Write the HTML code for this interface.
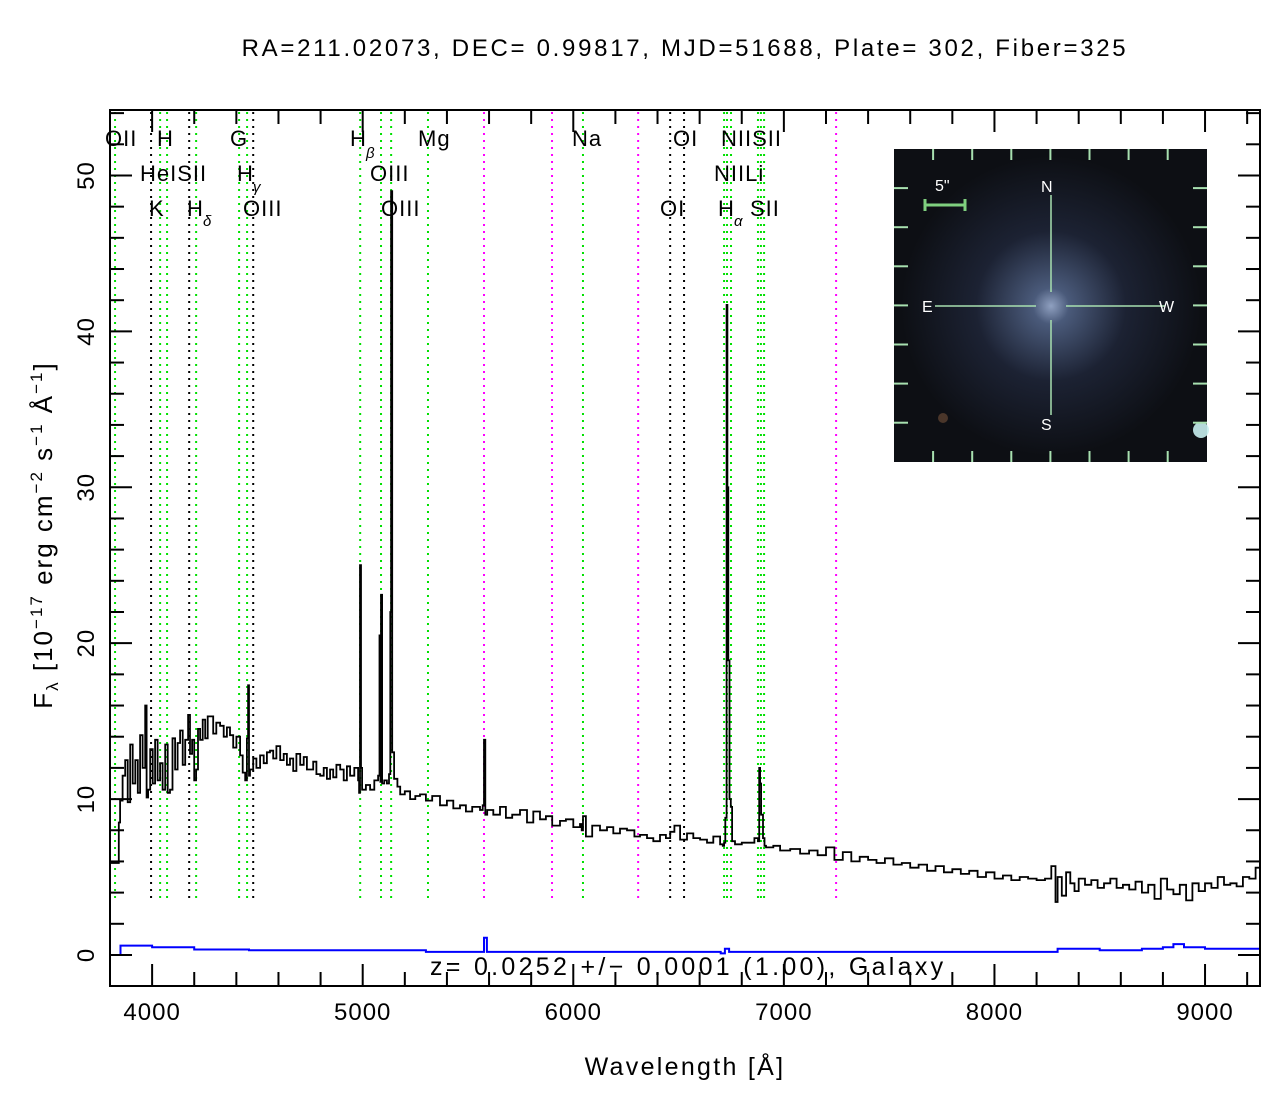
<!DOCTYPE html>
<html><head><meta charset="utf-8"><style>
html,body{margin:0;padding:0;background:#fff;}
svg text{font-family:"Liberation Sans","DejaVu Sans",sans-serif;}
</style></head><body>
<svg id="chart" width="1284" height="1097" viewBox="0 0 1284 1097" xmlns="http://www.w3.org/2000/svg">
<text x="685" y="56" font-size="24" text-anchor="middle" letter-spacing="2.7">RA=211.02073, DEC= 0.99817, MJD=51688, Plate= 302, Fiber=325</text>
<g id="lines"></g>
<g id="series"></g>
<rect x="110" y="110" width="1150" height="876" fill="none" stroke="#000" stroke-width="2"/>
<g id="axes"></g>
<g font-size="22" letter-spacing="1">
<text x="105" y="146">OII</text><text x="157" y="146">H</text><text x="230" y="146">G</text>
<text x="350" y="146">H</text><text x="366" y="158" font-size="15" font-style="italic">β</text>
<text x="418" y="146">Mg</text><text x="572" y="146">Na</text><text x="673" y="146">OI</text><text x="721" y="146">NIISII</text>
<text x="140" y="181">HeISII</text><text x="237" y="181">H</text><text x="253" y="192" font-size="15" font-style="italic">γ</text>
<text x="370" y="181">OIII</text><text x="714" y="181">NIILi</text>
<text x="149" y="216">K</text><text x="187" y="216">H</text><text x="203" y="226" font-size="15" font-style="italic">δ</text>
<text x="243" y="216">OIII</text><text x="381" y="216">OIII</text><text x="660" y="216">OI</text>
<text x="718" y="216">H</text><text x="734" y="226" font-size="15" font-style="italic">α</text><text x="750" y="216">SII</text>
</g>
<g>
<defs><radialGradient id="gal" cx="0.5" cy="0.5" r="0.5">
<stop offset="0" stop-color="#8fa0c0"/><stop offset="0.12" stop-color="#4a5a7a"/><stop offset="0.5" stop-color="#1c2233"/><stop offset="1" stop-color="#0d0f14"/></radialGradient></defs>
<rect x="894" y="149" width="313" height="313" fill="#0d0f14"/>
<ellipse cx="1051" cy="306" rx="150" ry="150" fill="url(#gal)"/>
<circle cx="1201" cy="430" r="8" fill="#c8f0f0" opacity="0.9"/>
<circle cx="943" cy="418" r="5" fill="#5a4030" opacity="0.8"/>
<g stroke="#a8e0b0" stroke-width="1.5">
<line x1="1051" y1="195" x2="1051" y2="292"/><line x1="1051" y1="320" x2="1051" y2="415"/>
<line x1="935" y1="306" x2="1036" y2="306"/><line x1="1066" y1="306" x2="1165" y2="306"/>
<line x1="925" y1="205" x2="965" y2="205" stroke="#7fd07f" stroke-width="3"/>
<line x1="925" y1="199" x2="925" y2="211" stroke="#7fd07f" stroke-width="3"/><line x1="965" y1="199" x2="965" y2="211" stroke="#7fd07f" stroke-width="3"/>
</g>
<g id="insetTicks" stroke="#a8e0b0" stroke-width="2"></g>
<g font-size="16">
<text x="935" y="191" style="fill:#fff">5"</text><text x="1041" y="192" style="fill:#fff">N</text>
<text x="922" y="312" style="fill:#fff">E</text><text x="1159" y="312" style="fill:#fff">W</text><text x="1041" y="430" style="fill:#fff">S</text>
</g>
</g>
<text x="430" y="975" font-size="25" letter-spacing="3.3">z= 0.0252 +/− 0.0001 (1.00), Galaxy</text>
<text x="685" y="1075" font-size="25" text-anchor="middle" letter-spacing="2.3">Wavelength [Å]</text>
<text transform="translate(52,535) rotate(-90)" font-size="26" text-anchor="middle" letter-spacing="2">F<tspan font-size="17" dy="6">λ</tspan><tspan dy="-6"> [10</tspan><tspan font-size="17" dy="-10">−17</tspan><tspan dy="10"> erg cm</tspan><tspan font-size="17" dy="-10">−2</tspan><tspan dy="10"> s</tspan><tspan font-size="17" dy="-10">−1</tspan><tspan dy="10"> Å</tspan><tspan font-size="17" dy="-10">−1</tspan><tspan dy="10">]</tspan></text>
</svg>
<script>
const wave=[3801,3839,3842,3848,3860,3872,3884,3896,3908,3920,
3932,3943,3955,3967,3974,3981,3991,4003,4014,4026,
4038,4050,4062,4074,4085,4097,4109,4121,4133,4145,
4157,4171,4180,4190,4200,4209,4218,4228,4240,4252,
4264,4275,4290,4305,4323,4340,4355,4370,4385,4400,
4418,4430,4442,4450,4456,4460,4465,4480,4495,4513,
4530,4545,4560,4575,4590,4608,4625,4640,4655,4670,
4685,4703,4720,4735,4750,4765,4780,4798,4815,4830,
4845,4860,4875,4893,4910,4925,4940,4960,4978,4983,
4987,4992,4997,5015,5035,5055,5073,5080,5084,5087,
5092,5102,5115,5125,5131,5135,5140,5149,5165,5178,
5200,5225,5250,5272,5300,5330,5367,5400,5430,5462,
5490,5520,5557,5570,5576,5582,5591,5620,5652,5680,
5710,5747,5780,5810,5842,5870,5900,5937,5965,6000,
6032,6040,6046,6060,6090,6127,6160,6190,6222,6255,
6290,6317,6350,6380,6412,6440,6460,6480,6507,6540,
6570,6602,6635,6665,6697,6710,6716,6722,6728,6732,
6736,6742,6748,6754,6768,6800,6839,6860,6877,6883,
6887,6892,6901,6908,6915,6950,6982,7030,7077,7120,
7160,7200,7240,7280,7320,7360,7400,7440,7480,7520,
7560,7600,7640,7680,7720,7760,7800,7840,7880,7920,
7960,8000,8040,8080,8120,8160,8200,8240,8270,8290,
8300,8320,8340,8360,8380,8400,8430,8460,8490,8520,
8550,8580,8610,8640,8670,8700,8730,8760,8790,8820,
8850,8880,8910,8940,8970,9000,9030,9060,9090,9120,
9150,9180,9210,9240,9261];
const flux=[5.9,5.9,8.5,9.9,11.5,12.5,9.8,13.5,11.0,12.5,
10.4,14.1,12.0,16.0,10.1,10.6,13.2,11.0,13.8,11.2,
12.3,10.6,13.5,10.4,10.6,13.9,11.9,13.6,14.4,12.2,
13.8,15.4,12.9,13.8,11.2,11.9,14.5,13.8,15.1,13.9,
15.3,15.3,14.2,14.9,14.7,14.0,14.6,14.1,13.3,14.0,
12.8,11.7,11.2,13.9,17.3,11.5,11.9,12.6,12.0,12.8,
12.3,13.0,13.1,12.6,13.4,12.5,12.9,12.2,12.6,11.8,
12.9,12.2,12.7,11.9,11.9,12.4,11.6,11.5,12.0,11.3,
11.9,11.4,12.2,11.9,11.2,12.1,11.5,12.0,11.2,10.4,
25.0,12.0,10.6,10.9,10.6,11.2,11.5,20.5,11.1,23.1,
11.0,11.2,11.0,11.6,22.0,49.0,13.0,11.3,10.8,10.3,
10.5,10.0,10.2,10.3,9.9,10.2,9.6,9.9,9.4,9.6,
9.2,9.5,9.3,9.6,13.8,9.0,9.3,9.0,9.5,8.8,
9.0,9.3,8.5,9.2,8.7,8.9,8.3,8.6,8.7,8.2,
8.4,8.0,8.9,7.6,8.3,8.0,8.2,7.8,8.1,8.0,
7.6,7.7,7.5,7.3,7.7,7.5,7.9,8.3,7.4,7.8,
7.5,7.4,7.2,7.6,7.1,7.0,7.2,8.8,41.7,30.0,
18.9,10.0,9.5,7.3,7.1,7.2,7.2,7.5,7.3,12.0,
11.0,9.0,7.5,7.0,6.9,7.0,6.7,6.8,6.5,6.7,
6.4,6.9,6.1,6.6,6.0,6.3,6.1,5.9,6.2,5.8,
5.9,5.6,5.8,5.4,5.7,5.3,5.5,5.2,5.4,5.0,
5.3,4.9,5.1,4.8,5.0,4.9,4.8,4.9,5.7,3.4,
5.0,3.8,5.3,4.6,4.1,4.9,4.5,4.8,4.3,4.6,
4.9,4.3,4.5,4.2,4.7,4.0,4.5,3.6,4.9,4.2,
3.9,4.5,3.5,4.6,4.1,4.6,4.3,5.0,4.5,4.6,
4.4,5.0,4.9,5.6,5.8];
const errWave=[3801,3840,3850,3900,4000,4100,4200,4450,4460,5050,5300,5560,5576,5590,6000,6500,6700,6720,6740,7000,7500,8000,8240,8300,8500,8700,8800,8850,8900,9000,9261];
const errFlux=[0.0,0.0,0.6,0.6,0.5,0.5,0.35,0.35,0.3,0.3,0.2,0.2,1.1,0.2,0.2,0.2,0.1,0.4,0.2,0.2,0.2,0.2,0.2,0.4,0.3,0.4,0.5,0.7,0.5,0.4,0.5];
const greenLines=[3824,4038,4071,4209,4413,4451,4988,5087,5135,5310,6046,6716,6730,6749,6877,6891,6906];
const blackLines=[3995,4176,4480,6460,6526];
const magentaLines=[5576,5899,6308,7248];
const xTicks=[4000,5000,6000,7000,8000,9000];
const yTicks=[0,10,20,30,40,50];

const NS="http://www.w3.org/2000/svg";
const X0=110,X1=1260,Y0=986,Y1=110;
const LMIN=3800,LMAX=9261,FMIN=-1.99,FMAX=54.2;
function xs(l){return X0+(l-LMIN)/(LMAX-LMIN)*(X1-X0);}
function ys(f){return Y0-(f-FMIN)/(FMAX-FMIN)*(Y0-Y1);}
function mk(tag,attrs,parent){const e=document.createElementNS(NS,tag);for(const k in attrs)e.setAttribute(k,attrs[k]);parent.appendChild(e);return e;}

const lg=document.getElementById('lines');
function drawLines(arr,col,name){arr.forEach(l=>{
  const e=mk('line',{x1:xs(l),x2:xs(l),y1:112,y2:900,stroke:col,'stroke-width':2,'stroke-dasharray':'2,5'},lg);
  
  
});}
drawLines(greenLines,'#00e000','emission-line-marker');
drawLines(blackLines,'#000','absorption-line-marker');
drawLines(magentaLines,'#ff00ff','sky-line-marker');

const sg=document.getElementById('series');
function stepPath(w,f){let d='';for(let i=0;i<w.length;i++){const x=xs(w[i]).toFixed(1),y=ys(f[i]).toFixed(1);
  if(i===0)d+='M'+x+','+y;else d+='H'+x+'V'+y;}return d;}
const sp=mk('path',{d:stepPath(wave,flux),fill:'none',stroke:'#000','stroke-width':1.8},sg);


const ep=mk('path',{d:stepPath(errWave,errFlux),fill:'none',stroke:'#0000ff','stroke-width':2},sg);



const ag=document.getElementById('axes');
for(let l=3800;l<=9261;l+=200){const major=l%1000===0;const L=major?22:14;
  mk('line',{x1:xs(l),x2:xs(l),y1:Y0,y2:Y0-L,stroke:'#000','stroke-width':2},ag);
  mk('line',{x1:xs(l),x2:xs(l),y1:Y1,y2:Y1+L,stroke:'#000','stroke-width':2},ag);}
for(let v=0;v<=54;v+=2){const major=v%10===0;const L=major?22:14;
  mk('line',{x1:X0,x2:X0+L,y1:ys(v),y2:ys(v),stroke:'#000','stroke-width':2},ag);
  mk('line',{x1:X1,x2:X1-L,y1:ys(v),y2:ys(v),stroke:'#000','stroke-width':2},ag);}
xTicks.forEach(l=>{const t=mk('text',{x:xs(l),y:1020,'font-size':24,'text-anchor':'middle','letter-spacing':1},ag);t.textContent=l;
  
  });
yTicks.forEach(v=>{const t=mk('text',{transform:'translate(94,'+ys(v)+') rotate(-90)','font-size':24,'text-anchor':'middle','letter-spacing':1},ag);t.textContent=v;
  
  });

const it=document.getElementById('insetTicks');
for(let i=1;i<=7;i++){const p=894+i*39.1;const q=149+i*39.1;
  mk('line',{x1:p,x2:p,y1:149,y2:160},it);mk('line',{x1:p,x2:p,y1:451,y2:462},it);
  mk('line',{x1:894,x2:908,y1:q,y2:q},it);mk('line',{x1:1193,x2:1207,y1:q,y2:q},it);}
</script>
</body></html>
